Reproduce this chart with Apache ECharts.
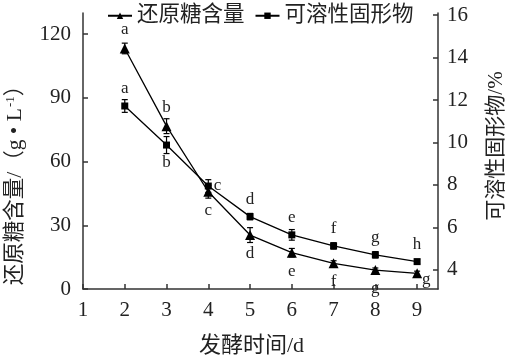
<!DOCTYPE html>
<html><head><meta charset="utf-8">
<script src="https://cdn.jsdelivr.net/npm/echarts@6/dist/echarts.min.js"></script>
<style>html,body{margin:0;padding:0;background:#fff}#c{width:505px;height:359px}</style>
</head><body><div id="c"></div>
<script>
const days = [2, 3, 4, 5, 6, 7, 8, 9];
const sugar = [113.3, 76.7, 45.8, 25.4, 17.1, 12.1, 8.9, 7.4];
const sugarErr = [2.5, 3.5, 3.0, 3.5, 2.0, 1.2, 1.0, 1.0];
const sugarLetters = ['a', 'b', 'c', 'd', 'e', 'f', 'g', 'g'];
const solids = [11.72, 9.88, 7.95, 6.51, 5.65, 5.13, 4.71, 4.39];
const solidsErr = [0.3, 0.4, 0.3, 0.15, 0.25, 0.15, 0.15, 0.1];
const solidsLetters = ['a', 'b', 'c', 'd', 'e', 'f', 'g', 'h'];
const leftTicks = [0, 30, 60, 90, 120];
const rightTicks = [4, 6, 8, 10, 12, 14, 16];
const xTicks = [1, 2, 3, 4, 5, 6, 7, 8, 9];

const sugarLabelPos = ['top', 'top', 'bottom', 'bottom', 'bottom', 'bottom', 'bottom', 'lowerRight'];
const solidsLabelPos = ['top', 'bottom', 'right', 'top', 'top', 'top', 'top', 'top'];

const FONT = '"Liberation Serif", "Noto Sans CJK SC", serif';
const chart = echarts.init(document.getElementById('c'));

function errSeries(vals, errs, yIdx) {
  return {
    type: 'custom', yAxisIndex: yIdx, silent: true, z: 5,
    data: days.map((d, i) => [d, vals[i] - errs[i], vals[i] + errs[i]]),
    renderItem: function (params, api) {
      const lo = api.coord([api.value(0), api.value(1)]);
      const hi = api.coord([api.value(0), api.value(2)]);
      const w = 3;
      const st = { stroke: '#000', lineWidth: 1.2 };
      return { type: 'group', children: [
        { type: 'line', shape: { x1: lo[0], y1: lo[1], x2: hi[0], y2: hi[1] }, style: st },
        { type: 'line', shape: { x1: lo[0] - w, y1: lo[1], x2: lo[0] + w, y2: lo[1] }, style: st },
        { type: 'line', shape: { x1: hi[0] - w, y1: hi[1], x2: hi[0] + w, y2: hi[1] }, style: st }
      ]};
    }
  };
}

function lineData(vals, letters, pos) {
  return days.map((d, i) => {
    const p = pos[i];
    const lab = { show: true, position: p, formatter: letters[i], distance: p === 'right' ? 2 : 5 };
    if (p === 'lowerRight') { lab.position = 'right'; lab.distance = 0; lab.offset = [0, 6]; }
    return { value: [d, vals[i]], label: lab };
  });
}

const AX = '#333';

chart.setOption({
  animation: false,
  textStyle: { fontFamily: FONT },
  grid: { left: 83, right: 67, top: 13, bottom: 70, containLabel: false, outerBoundsMode: 'none' },
  legend: {
    top: 0, left: 102, itemGap: 10, itemWidth: 24, itemHeight: 8,
    textStyle: { fontFamily: FONT, fontSize: 21.5, color: '#222' },
    data: ['还原糖含量', '可溶性固形物']
  },
  xAxis: {
    type: 'value', min: 1, max: 9.5,
    name: '发酵时间/d', nameLocation: 'middle', nameGap: 46,
    nameTextStyle: { fontFamily: FONT, fontSize: 22, color: '#222', padding: [0, 18, 0, 0] },
    axisLine: { lineStyle: { color: AX, width: 1.5 } },
    axisTick: { inside: true, length: 5, customValues: xTicks, lineStyle: { color: AX, width: 1.5 } },
    axisLabel: { customValues: xTicks, fontFamily: FONT, fontSize: 21, color: '#222', margin: 11 },
    splitLine: { show: false }
  },
  yAxis: [{
    type: 'value', min: 0, max: 130, position: 'left',
    name: '{m|还原糖含量/（g • L}{s|-1}{m|）}', nameLocation: 'middle', nameGap: 57, nameRotate: 90,
    nameTextStyle: { padding: [0, 58, 0, 0], rich: {
      m: { fontFamily: FONT, fontSize: 21.5, color: '#222' },
      s: { fontFamily: FONT, fontSize: 13, color: '#222', verticalAlign: 'top', padding: [0, 0, 9, 1] }
    } },
    axisLine: { show: true, lineStyle: { color: AX, width: 1.5 } },
    axisTick: { show: true, inside: true, length: 5, customValues: leftTicks, lineStyle: { color: AX, width: 1.5 } },
    axisLabel: { customValues: leftTicks, fontFamily: FONT, fontSize: 21, color: '#222', margin: 12 },
    splitLine: { show: false }
  }, {
    type: 'value', min: 3.1, max: 16.1, position: 'right',
    name: '可溶性固形物/%', nameLocation: 'middle', nameGap: 48, nameRotate: 90,
    nameTextStyle: { fontFamily: FONT, fontSize: 21, color: '#222', padding: [0, 0, 0, 10] },
    axisLine: { show: true, lineStyle: { color: AX, width: 1.5 } },
    axisTick: { show: true, inside: true, length: 5, customValues: rightTicks, lineStyle: { color: AX, width: 1.5 } },
    axisLabel: { customValues: rightTicks, fontFamily: FONT, fontSize: 21, color: '#222', margin: 9 },
    splitLine: { show: false }
  }],
  series: [
    {
      name: '还原糖含量', type: 'line', yAxisIndex: 0, symbol: 'triangle', symbolSize: 10,
      itemStyle: { color: '#000' }, lineStyle: { color: '#000', width: 1.3 }, z: 10,
      label: { fontFamily: FONT, fontSize: 17, color: '#222' },
      data: lineData(sugar, sugarLetters, sugarLabelPos)
    },
    {
      name: '可溶性固形物', type: 'line', yAxisIndex: 1, symbol: 'rect', symbolSize: 7,
      itemStyle: { color: '#000' }, lineStyle: { color: '#000', width: 1.3 }, z: 10,
      label: { fontFamily: FONT, fontSize: 17, color: '#222' },
      data: lineData(solids, solidsLetters, solidsLabelPos)
    },
    errSeries(sugar, sugarErr, 0),
    errSeries(solids, solidsErr, 1)
  ]
});
</script>
</body></html>
